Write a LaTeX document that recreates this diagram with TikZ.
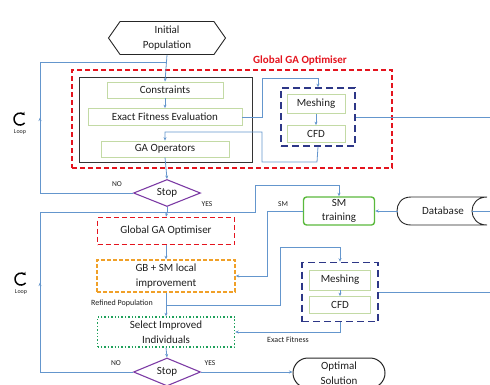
\documentclass[tikz,border=0pt]{standalone}
\usepackage{fontspec}
\setmainfont{Carlito}
\usepackage{tikz}
\usetikzlibrary{arrows.meta,positioning,calc,shapes.geometric,shapes.symbols,shapes.misc,decorations.markings}

\definecolor{flowblue}{RGB}{100,150,205}
\definecolor{gared}{RGB}{228,20,30}
\definecolor{cfdblue}{RGB}{45,55,135}
\definecolor{boxgreen}{RGB}{195,218,165}
\definecolor{smgreen}{RGB}{90,185,60}
\definecolor{stoppurple}{RGB}{125,60,165}
\definecolor{gborange}{RGB}{240,160,40}
\definecolor{selgreen}{RGB}{30,160,90}
\definecolor{txtgray}{RGB}{30,30,30}

\tikzset{
  flow/.style={color=flowblue,line width=0.8pt},
  flowarr/.style={flow,-{Stealth[length=3.5pt,width=3pt]}},
  midarr/.style={postaction={decorate},decoration={markings,mark=at position #1 with {\arrow{Stealth[length=3.5pt,width=3pt]}}}},
  boxtext/.style={text=txtgray,font=\fontsize{11}{15}\selectfont,align=center,inner sep=0pt},
  stepbox/.style={boxtext,draw=boxgreen,line width=0.8pt},
  hexbox/.style={boxtext,draw=black!85,line width=0.9pt,signal,signal to=west and east,signal pointer angle=110},
  stopbox/.style={boxtext,draw=stoppurple,line width=1.1pt,diamond,aspect=2.5},
  gadash/.style={draw=gared,line width=1.6pt,dash pattern=on 5pt off 3pt},
  cfddash/.style={draw=cfdblue,line width=1.6pt,dash pattern=on 7pt off 4pt},
  smallnote/.style={text=txtgray,font=\fontsize{7.5}{9}\selectfont,inner sep=0pt},
  loopsym/.style={line width=1.5pt,-{Stealth[length=3pt,width=4pt]}}
}

\begin{document}
\begin{tikzpicture}[x=1pt,y=-1pt]
\useasboundingbox (0,0) rectangle (490,384);
\clip (0,0) rectangle (490,384);

% Start
\node[hexbox,minimum width=117pt,minimum height=33pt] (init) at (167,38) {Initial\\Population};

% Global GA optimiser block
\node[gadash,minimum width=320pt,minimum height=98pt] (gaouter) at (232,119) {};
\node[text=gared,font=\bfseries\fontsize{11}{12}\selectfont,inner sep=0pt] (gatitle) at (300,60) {Global GA Optimiser};
\node[draw=black!80,line width=0.8pt,minimum width=173pt,minimum height=85pt] (gainner) at (165.5,119.5) {};
\node[stepbox,minimum width=116pt,minimum height=16pt] (cons) at (165,90) {Constraints};
\node[stepbox,minimum width=154pt,minimum height=17pt] (fitev) at (165,117) {Exact Fitness Evaluation};
\node[stepbox,minimum width=128pt,minimum height=16pt] (gaop) at (165,149) {GA Operators};
\node[cfddash,minimum width=74pt,minimum height=58pt] (meshbox1) at (318,117) {};
\node[stepbox,minimum width=58pt,minimum height=19pt] (mesh1) at (316,104) {Meshing};
\node[stepbox,minimum width=58pt,minimum height=17pt] (cfd1) at (316,134) {CFD};
\node[stopbox,minimum width=67pt,minimum height=27pt] (stop1) at (167,193) {Stop};

% Local improvement stage
\node[boxtext,gadash,minimum width=137pt,minimum height=27pt] (glob2) at (166,231) {Global GA Optimiser};
\node[boxtext,draw=gborange,line width=1.4pt,dash pattern=on 4pt off 2pt,minimum width=138pt,minimum height=32pt] (gbsm) at (166,276) {GB + SM local\\improvement};
\node[boxtext,draw=smgreen,line width=1.4pt,rounded corners=3pt,minimum width=71pt,minimum height=28pt,font=\fontsize{11}{14}\selectfont] (smt) at (339,211) {SM\\training};
\node[boxtext,minimum width=90pt,minimum height=28pt] (db) at (443,211) {Database};
\coordinate (dbin) at (472,211);
\node[cfddash,minimum width=76pt,minimum height=59pt] (meshbox2) at (340,292) {};
\node[stepbox,minimum width=61pt,minimum height=20pt] (mesh2) at (340,280) {Meshing};
\node[stepbox,minimum width=61pt,minimum height=17pt] (cfd2) at (340,305) {CFD};
\node[boxtext,draw=selgreen,line width=1.4pt,dotted,minimum width=137pt,minimum height=30pt] (sel) at (166,332) {Select Improved\\Individuals};
\node[stopbox,minimum width=67pt,minimum height=28pt] (stop2) at (167,372) {Stop};
\node[boxtext,draw=black!85,line width=1pt,rounded rectangle,minimum width=92pt,minimum height=30pt] (opt) at (339,373) {Optimal\\Solution};

% Database outline
\draw[black!85,line width=0.9pt] (411,197) -- (487,197) .. controls (477,197) and (472,204) .. (dbin)
  .. controls (472,218) and (477,225) .. (487,225) -- (411,225)
  .. controls (401,225) and (397,218) .. (397,211) .. controls (397,204) and (401,197) .. (411,197);

% Loop symbols
\coordinate (loop1) at (20,119);
\coordinate (loop2) at (21,279);
\draw[loopsym] ($(loop1)+(4.6,3.9)$) arc[start angle=40,end angle=320,radius=6];
\node[smallnote,font=\fontsize{6}{7}\selectfont] (looptxt1) at (20,132) {Loop};
\draw[loopsym] ($(loop2)+(4.6,3.9)$) arc[start angle=40,end angle=320,radius=6];
\node[smallnote,font=\fontsize{6}{7}\selectfont] (looptxt2) at (21,292) {Loop};

% Connectors, global stage
\draw[flowarr] (init.south) -- (cons.north);
\draw[flowarr] (cons.south) -- (fitev.north);
\draw[flowarr] (fitev.east) -- (262,117) -- (262,78) -| (meshbox1.north);
\draw[flowarr] (mesh1.south) -- (cfd1.north);
\draw[flowarr] (meshbox1.south) -- (317,162) -| (262,132) -| (gaop.north);
\draw[flow] (meshbox1.east) -- (495,117);
\draw[flowarr] (gaop.south) -- (stop1.north);
\draw[flow,midarr=0.48] (stop1.west) -- (40,193) -- (40,62) -- (167,62);
\node[smallnote] (no1) at (117,184) {NO};
\coordinate (split1) at (167,212);
\draw[flowarr] (stop1.south) -- (split1) -- (255,212) -- (255,185) -| (smt.north);
\node[smallnote] (yes1) at (207,204) {YES};

% Connectors, local stage
\draw[flowarr] (split1) -- (glob2.north);
\draw[flowarr] (glob2.south) -- (gbsm.north);
\draw[flowarr] (smt.west) -- (267,211) |- (gbsm.east);
\node[smallnote] (smlbl) at (283,204) {SM};
\draw[flowarr] (db.west) -- (smt.east);
\draw[flow] (495,211) -- (dbin);
\draw[flowarr] (gbsm.south) -- (sel.north);
\coordinate (split2) at (167,305);
\draw[flowarr] (split2) -- (280,305) |- (340,247) -- (meshbox2.north);
\node[smallnote,font=\fontsize{8}{9}\selectfont] (refined) at (122,303) {Refined Population};
\draw[flowarr] (mesh2.south) -- (cfd2.north);
\draw[flowarr] (meshbox2.south) |- (sel.east);
\node[smallnote,font=\fontsize{8}{9}\selectfont] (exactlbl) at (288,340) {Exact Fitness};
\draw[flow] (meshbox2.east) -- (495,292);
\draw[flowarr] (sel.south) -- (stop2.north);
\draw[flow,midarr=0.48] (stop2.west) -- (40,372) -- (40,212) -- (split1);
\node[smallnote] (no2) at (116,363) {NO};
\draw[flowarr] (stop2.east) -- (opt.west |- stop2.east);
\node[smallnote] (yes2) at (210,363) {YES};
\end{tikzpicture}
\end{document}
